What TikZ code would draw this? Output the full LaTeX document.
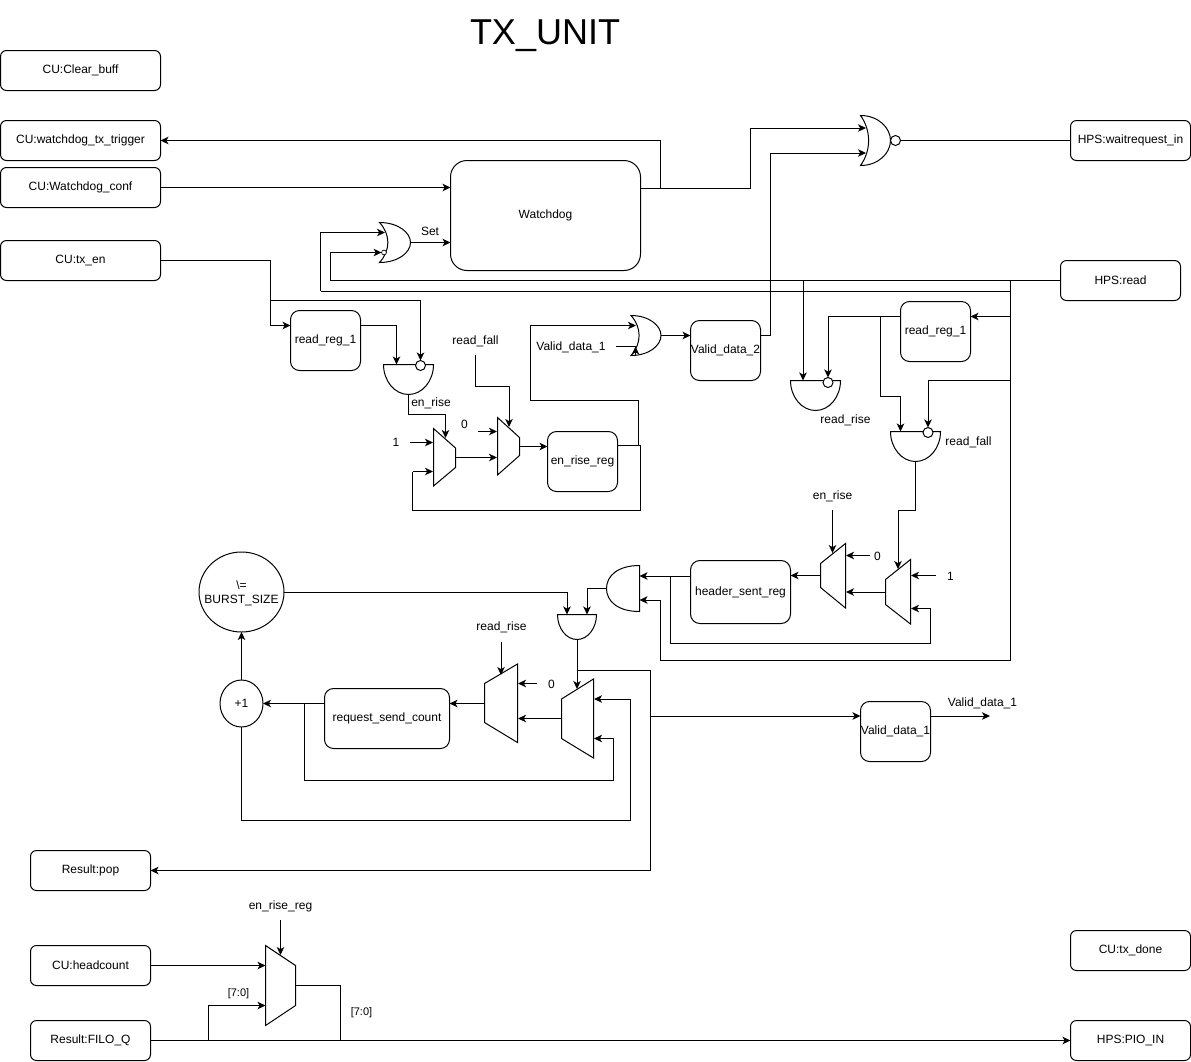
\documentclass[tikz,border=0pt]{standalone}
\usepackage{fontspec}
\setmainfont{Liberation Sans}
\usetikzlibrary{arrows.meta,shapes.geometric}
\newcommand{\mkbox}[6]{%
  \pgfmathsetmacro{\bw}{(#4-#2)*0.75}\pgfmathsetmacro{\bh}{(#5-#3)*0.75}%
  \pgfmathsetmacro{\br}{0.15*min(\bw,\bh)}%
  \node[boxn,minimum width=\bw pt,minimum height=\bh pt,rounded corners=\br pt] (#1) at ({(#2+#4)/2},{(#3+#5)/2}) {\raisebox{-1pt}{#6}};}
% and gate, flat side on top
\newcommand{\anddown}[4]{\draw[gate] (#1,#3) -- (#2,#3) .. controls (#2,{#3+0.55*(#4-#3)}) and ({(#1+#2)/2+0.275*(#2-#1)},#4) .. ({(#1+#2)/2},#4) .. controls ({(#1+#2)/2-0.275*(#2-#1)},#4) and (#1,{#3+0.55*(#4-#3)}) .. cycle;}
% and gate, flat side on the right
\newcommand{\andleft}[4]{\draw[gate] (#2,#3) -- (#2,#4) .. controls ({#1+0.35*(#2-#1)},#4) and (#1,{(#3+#4)/2+0.28*(#4-#3)}) .. (#1,{(#3+#4)/2}) .. controls (#1,{(#3+#4)/2-0.28*(#4-#3)}) and ({#1+0.35*(#2-#1)},#3) .. (#2,#3) -- cycle;}
% or gate pointing right
\newcommand{\orright}[4]{\draw[gate] (#1,#3) .. controls ({#1+0.6*(#2-#1)},#3) and (#2,{(#3+#4)/2-0.25*(#4-#3)}) .. (#2,{(#3+#4)/2}) .. controls (#2,{(#3+#4)/2+0.25*(#4-#3)}) and ({#1+0.6*(#2-#1)},#4) .. (#1,#4) .. controls ({#1+0.36*(#2-#1)},{#4-0.3*(#4-#3)}) and ({#1+0.36*(#2-#1)},{#3+0.3*(#4-#3)}) .. cycle;}
\begin{document}
\begin{tikzpicture}[x=0.75pt,y=-0.75pt,
  every node/.style={font=\fontsize{9}{11}\selectfont,text=black},
  boxn/.style={draw=black,line width=0.75pt,fill=white,inner sep=0pt,outer sep=0pt,align=center},
  gate/.style={draw=black,line width=0.75pt,line join=miter},
  wire/.style={draw=black,line width=0.75pt},
  arr/.style={wire,-{Stealth[length=6pt,width=5.6pt,inset=1.6pt]}},
  lab/.style={inner sep=0pt,align=center,yshift=-1pt},
  bub/.style={circle,draw=black,line width=0.75pt,fill=white,inner sep=0pt,minimum size=7.5pt,outer sep=0pt},
  tinybub/.style={circle,draw=black,line width=0.5pt,fill=white,inner sep=0pt,minimum size=3.6pt,outer sep=0pt},
  ell/.style={ellipse,draw=black,line width=0.75pt,fill=white,inner sep=0pt,outer sep=0pt,align=center}]
\useasboundingbox (0,0) rectangle (1191,1061);
\fill[white] (0,0) rectangle (1191,1061);

\node[lab,font=\fontsize{27}{32}\selectfont] (title) at (545,34) {TX\_UNIT};

% ---- boxes ----
\mkbox{clearbuff}{0.5}{50.5}{160.5}{90.5}{CU:Clear\_buff}
\mkbox{trigger}{0.5}{120.5}{160.5}{160.5}{CU:watchdog\_tx\_trigger}
\mkbox{wconf}{0.5}{167.5}{160.5}{207.5}{CU:Watchdog\_conf}
\mkbox{txen}{0.5}{240.5}{160.5}{280.5}{CU:tx\_en}
\mkbox{watchdog}{450.5}{160.5}{640.5}{270.5}{Watchdog}
\mkbox{waitreq}{1070.5}{120.5}{1190.5}{160.5}{HPS:waitrequest\_in}
\mkbox{hpsread}{1060.5}{260.5}{1180.5}{300.5}{HPS:read}
\mkbox{regL}{290.5}{310.5}{360.5}{370.5}{read\_reg\_1}
\mkbox{regR}{900.5}{301.5}{970.5}{361.5}{read\_reg\_1}
\mkbox{enrisereg}{547.5}{431.5}{617.5}{491.5}{en\_rise\_reg}
\mkbox{valid2}{690.5}{320.5}{760.5}{380.5}{Valid\_data\_2}
\mkbox{header}{690.5}{560.5}{790.5}{623.5}{header\_sent\_reg}
\mkbox{reqcount}{324.5}{688.5}{449.5}{748.5}{request\_send\_count}
\mkbox{valid1}{860.5}{701.5}{930.5}{761.5}{Valid\_data\_1}
\mkbox{pop}{30.5}{850.5}{150.5}{890.5}{Result:pop}
\mkbox{headcount}{30.5}{945.5}{150.5}{985.5}{CU:headcount}
\mkbox{filoq}{30.5}{1020.5}{150.5}{1060.5}{Result:FILO\_Q}
\mkbox{txdone}{1070.5}{930.5}{1190.5}{970.5}{CU:tx\_done}
\mkbox{pioin}{1070.5}{1020.5}{1190.5}{1060.5}{HPS:PIO\_IN}
\node[ell,minimum width=63.75pt,minimum height=60pt] (burst) at (241.5,592) {};
\node[lab] (bursttext) at (241.5,592) {\textbackslash=\\BURST\_SIZE};
\node[ell,minimum width=32.25pt,minimum height=35.25pt] (plusone) at (241.5,703.5) {};
\node[lab] (plusonetext) at (241.5,702.5) {+1};

% ---- gates ----
\orright{379.5}{410.5}{222.5}{262.5}
\orright{860.5}{890.5}{115.5}{165.5}
\orright{631}{661}{315.5}{355.5}
\anddown{383.5}{433.5}{364.5}{394.5}
\anddown{790.5}{840.5}{380.5}{410.5}
\anddown{890.5}{940.5}{431.5}{461.5}
\anddown{557.5}{596.5}{614.5}{639.5}
\andleft{606.5}{639.5}{565.5}{611.5}

% ---- multiplexers ----
\draw[gate] (433.5,428.5) -- (455.5,448) -- (455.5,467.5) -- (433.5,486) -- cycle;
\draw[gate] (497.5,417.5) -- (519.5,437.5) -- (519.5,455.5) -- (497.5,475) -- cycle;
\draw[gate] (910.5,559.5) -- (885.5,579.5) -- (885.5,604.5) -- (910.5,624) -- cycle;
\draw[gate] (845.5,543.5) -- (820.5,563.5) -- (820.5,587.5) -- (845.5,608) -- cycle;
\draw[gate] (593.5,679) -- (561.5,699) -- (561.5,738.5) -- (593.5,758) -- cycle;
\draw[gate] (517.5,664) -- (484.5,683.5) -- (484.5,722.5) -- (517.5,742.5) -- cycle;
\draw[gate] (265.5,945.5) -- (295.5,965.5) -- (295.5,1005.5) -- (265.5,1025.5) -- cycle;

% ---- pins ----
\coordinate (txenO) at (160.5,260.5);
\coordinate (regLin) at (290.5,325.5);
\coordinate (regLout) at (360.5,325.5);
\coordinate (enA) at (396.5,364.5);
\node[bub] (enB) at (420.5,365.5) {};
\coordinate (enO) at (408.5,394.5);
\coordinate (m1s) at (445.5,438);
\coordinate (m1a) at (433,442.5);
\coordinate (m1b) at (433,471.5);
\coordinate (m1o) at (455.5,457.5);
\coordinate (one1) at (410,442.5);
\coordinate (m2a) at (497,431.5);
\coordinate (m2b) at (497,457.5);
\coordinate (m2s) at (509,427);
\coordinate (m2o) at (519.5,446.5);
\coordinate (zero1) at (478,431.5);
\coordinate (rfsrc) at (475.5,355);
\coordinate (errin) at (547.5,446.5);
\coordinate (errout) at (617.5,445.5);
\coordinate (or2a) at (636,325.5);
\coordinate (or2o) at (661,335.5);
\coordinate (vd2in) at (690.5,335.5);
\coordinate (vd2out) at (760.5,335.5);
\coordinate (vd1src) at (615.5,346.5);
\coordinate (vd1pin) at (635.5,346.5);
\coordinate (wdout) at (640.5,188);
\coordinate (wdconf) at (450.5,187.5);
\coordinate (wconfO) at (160.5,187.5);
\coordinate (wdset) at (450.5,242.5);
\coordinate (setO) at (410.5,242.5);
\coordinate (setA) at (385,232.5);
\node[tinybub] (setB) at (384,252.5) {};
\coordinate (norA) at (866,128);
\coordinate (norB) at (866,153);
\node[bub] (norBub) at (895.5,140.5) {};
\coordinate (trigIn) at (160.5,140.5);
\coordinate (waitIn) at (1070.5,140.5);
\coordinate (readO) at (1060.5,280.5);
\coordinate (regRin) at (970.5,316.5);
\coordinate (regRout) at (900.5,316.5);
\coordinate (rrA) at (803,380.5);
\node[bub] (rrB) at (828,382.5) {};
\coordinate (rfA) at (900.5,431.5);
\node[bub] (rfB) at (928,432.5) {};
\coordinate (rfO) at (915.5,461.5);
\coordinate (bmRs) at (898,569);
\coordinate (bmRa) at (911,575.5);
\coordinate (bmRb) at (911,608.5);
\coordinate (bmRo) at (885.5,592);
\coordinate (one2) at (936,575.5);
\coordinate (bmLa) at (846,555.5);
\coordinate (bmLb) at (846,592);
\coordinate (bmLs) at (832.5,553);
\coordinate (bmLo) at (820.5,575.5);
\coordinate (zero2) at (870,555.5);
\coordinate (ers) at (832.5,510);
\coordinate (hIn) at (790.5,575.5);
\coordinate (hOut) at (690.5,576);
\coordinate (and3a) at (639.5,576);
\coordinate (and3b) at (639.5,600);
\coordinate (and3o) at (606.5,588.5);
\coordinate (and4a) at (567,614.5);
\coordinate (and4b) at (587,614.5);
\coordinate (and4o) at (577,639.5);
\coordinate (lmRs) at (577,689);
\coordinate (lmRa) at (594,699);
\coordinate (lmRb) at (594,738.5);
\coordinate (lmRo) at (561.5,718.5);
\coordinate (lmLin) at (518,718.5);
\coordinate (lmLa) at (518,683.5);
\coordinate (zero3) at (537,683.5);
\coordinate (lmLs) at (501,675);
\coordinate (rrs) at (501,642);
\coordinate (lmLo) at (484.5,703.5);
\coordinate (rcIn) at (449.5,703.5);
\coordinate (rcOut) at (324.5,703.5);
\coordinate (popIn) at (150.5,870.5);
\coordinate (vd1In) at (860.5,716);
\coordinate (vd1Out) at (930.5,716);
\coordinate (vd1End) at (990,716);
\coordinate (hcO) at (150.5,965.5);
\coordinate (bmA) at (265.5,965.5);
\coordinate (bmB) at (265.5,1005.5);
\coordinate (bmS) at (280.5,955);
\coordinate (errsrc) at (280.5,920);
\coordinate (bmO) at (295.5,985.5);
\coordinate (filoO) at (150.5,1040.5);
\coordinate (pioIn) at (1070.5,1040.5);

% ---- connectors ----
\draw[wire] (txenO) -- (270.5,260.5) -- (270.5,300.5) -- (420.5,300.5);
\draw[arr] (270.5,300.5) -- (420.5,300.5) -- (enB.north);
\draw[arr] (270.5,300.5) -- (270.5,325.5) -- (regLin);
\draw[arr] (regLout) -- (396.5,325.5) -- (enA);
\draw[arr] (enO) -- (408.5,414.5) -- (445.5,414.5) -- (m1s);
\draw[arr] (one1) -- (m1a);
\draw[arr] (m1o) -- (m2b);
\draw[arr] (zero1) -- (m2a);
\draw[arr] (rfsrc) -- (475.5,386.5) -- (509,386.5) -- (m2s);
\draw[arr] (m2o) -- (errin);
\draw[wire] (errout) -- (640.5,445.5) -- (640.5,510.5) -- (412.5,510.5) -- (412.5,471.5);
\draw[arr] (412.5,471.5) -- (m1b);
\draw[arr] (errout) -- (638,445.5) -- (638,400.5) -- (530.5,400.5) -- (530.5,325.5) -- (or2a);
\draw[wire] (vd1src) -- (vd1pin);
\draw[arr] (635.5,354.5) -- (635.5,346.5);
\draw[arr] (or2o) -- (vd2in);
\draw[arr] (vd2out) -- (770.5,335.5) -- (770.5,153) -- (norB);
\draw[arr] (wdout) -- (750.5,188) -- (750.5,128) -- (norA);
\draw[arr] (660.5,188) -- (660.5,140.5) -- (trigIn);
\draw[wire] (norBub.east) -- (waitIn);
\draw[arr] (wconfO) -- (wdconf);
\draw[arr] (setO) -- (wdset);
\draw[arr] (320.5,291) -- (320.5,232.5) -- (setA);
\draw[wire] (1010.5,291) -- (320.5,291);
\draw[arr] (readO) -- (330.5,280.5) -- (330.5,252.5) -- (setB.west);
\draw[wire] (1010.5,280.5) -- (1010.5,660.5) -- (660.5,660.5) -- (660.5,600);
\draw[arr] (660.5,600) -- (and3b);
\draw[arr] (1010.5,316.5) -- (regRin);
\draw[arr] (regRout) -- (828,316.5) -- (rrB.north);
\draw[arr] (803,280.5) -- (rrA);
\draw[arr] (880.5,316.5) -- (880.5,396.5) -- (900.5,396.5) -- (rfA);
\draw[arr] (1010.5,380.5) -- (928,380.5) -- (rfB.north);
\draw[arr] (rfO) -- (915.5,510.5) -- (898,510.5) -- (bmRs);
\draw[arr] (one2) -- (bmRa);
\draw[arr] (670.5,576) -- (670.5,643.5) -- (930.5,643.5) -- (930.5,608.5) -- (bmRb);
\draw[arr] (bmRo) -- (bmLb);
\draw[arr] (zero2) -- (bmLa);
\draw[arr] (ers) -- (bmLs);
\draw[arr] (bmLo) -- (hIn);
\draw[arr] (hOut) -- (and3a);
\draw[arr] (and3o) -- (587,588.5) -- (and4b);
\draw[arr] (burst.east) -- (567,592) -- (and4a);
\draw[arr] (and4o) -- (lmRs);
\draw[wire] (577,670.5) -- (650.5,670.5) -- (650.5,870.5);
\draw[arr] (650.5,870.5) -- (popIn);
\draw[arr] (650.5,716) -- (vd1In);
\draw[arr] (vd1Out) -- (vd1End);
\draw[arr] (lmRo) -- (lmLin);
\draw[arr] (zero3) -- (lmLa);
\draw[arr] (rrs) -- (lmLs);
\draw[arr] (lmLo) -- (rcIn);
\draw[arr] (rcOut) -- (plusone.east);
\draw[arr] (plusone.north) -- (burst.south);
\draw[arr] (plusone.south) -- (241.5,820.5) -- (630.5,820.5) -- (630.5,699) -- (lmRa);
\draw[arr] (304.5,703.5) -- (304.5,780.5) -- (613.5,780.5) -- (613.5,738.5) -- (lmRb);
\draw[arr] (hcO) -- (bmA);
\draw[arr] (208.5,1040.5) -- (208.5,1005.5) -- (bmB);
\draw[arr] (errsrc) -- (bmS);
\draw[wire] (bmO) -- (340.5,985.5) -- (340.5,1040.5);
\draw[arr] (filoO) -- (pioIn);

% ---- labels ----
\node[lab] (lset) at (430,230) {Set};
\node[lab] (lenrise) at (431,402) {en\_rise};
\node[lab] (l1a) at (396,441) {1};
\node[lab] (l0a) at (464.5,423) {0};
\node[lab] (lrf) at (475.5,340) {read\_fall};
\node[lab] (lvd1a) at (571,346) {Valid\_data\_1};
\node[lab] (lrr) at (845.5,419) {read\_rise};
\node[lab] (lrf2) at (968.5,441.5) {read\_fall};
\node[lab] (lenr2) at (832.5,495) {en\_rise};
\node[lab] (l0b) at (877.5,555) {0};
\node[lab] (l1b) at (950.5,575) {1};
\node[lab] (lrr2) at (501.5,626) {read\_rise};
\node[lab] (l0c) at (551.5,683) {0};
\node[lab] (lvd1b) at (982.5,702) {Valid\_data\_1};
\node[lab] (lerr) at (280.5,905) {en\_rise\_reg};
\node[lab,font=\fontsize{8.25}{10}\selectfont] (l70a) at (238.5,992) {[7:0]};
\node[lab,font=\fontsize{8.25}{10}\selectfont] (l70b) at (361.5,1011) {[7:0]};
\end{tikzpicture}
\end{document}
